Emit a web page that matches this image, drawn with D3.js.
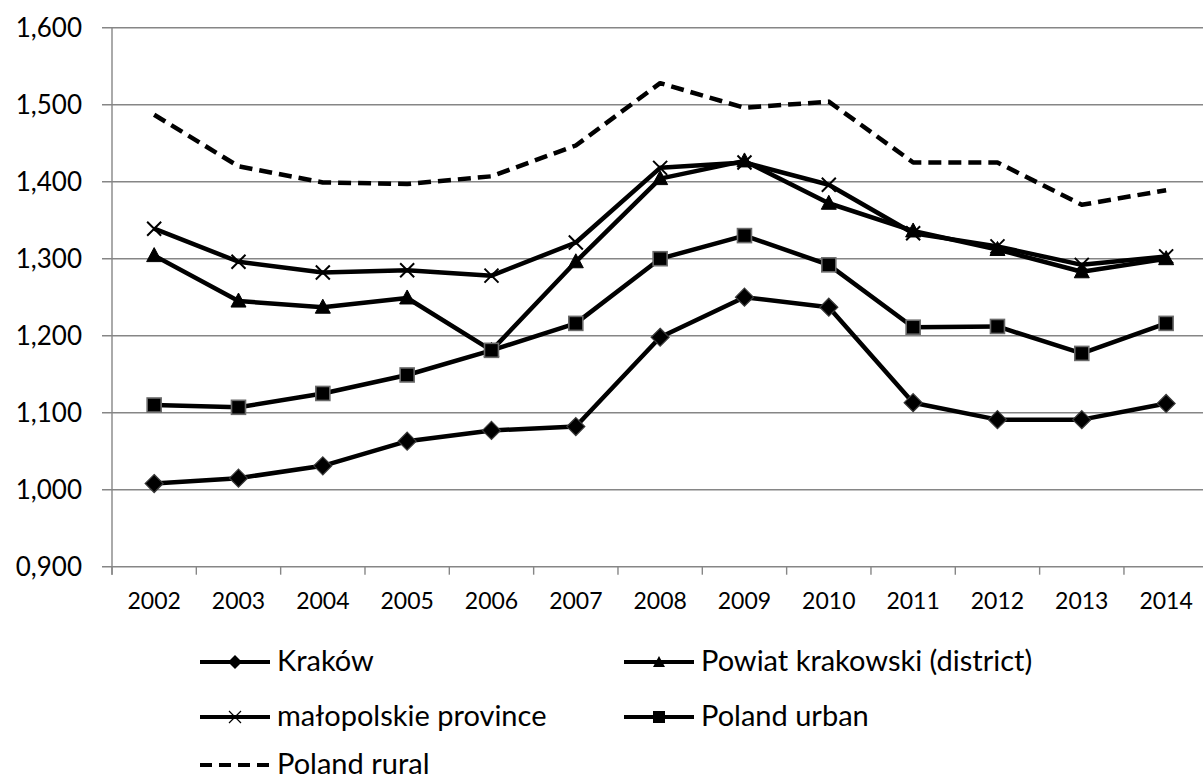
<!DOCTYPE html>
<html>
<head>
<meta charset="utf-8">
<script src="https://cdn.jsdelivr.net/npm/d3@7"></script>
<style>
  html, body { margin: 0; padding: 0; background: #fff; }
  svg { display: block; }
  text { font-family: Lato, "Open Sans", "DejaVu Sans", sans-serif; fill: #000; }
</style>
</head>
<body>
<svg id="chart" width="1203" height="780"></svg>
<script>
// Years along the category axis
const years = ["2002","2003","2004","2005","2006","2007","2008","2009","2010","2011","2012","2013","2014"];

// Series values
const krakow      = [1.008, 1.015, 1.031, 1.063, 1.077, 1.082, 1.198, 1.250, 1.237, 1.113, 1.091, 1.091, 1.112];
const powiat      = [1.304, 1.245, 1.237, 1.249, 1.181, 1.296, 1.404, 1.427, 1.372, 1.336, 1.312, 1.283, 1.300];
const malopolskie = [1.339, 1.296, 1.282, 1.285, 1.278, 1.321, 1.418, 1.425, 1.396, 1.333, 1.316, 1.292, 1.303];
const polandUrban = [1.110, 1.107, 1.125, 1.149, 1.181, 1.216, 1.300, 1.330, 1.292, 1.211, 1.212, 1.177, 1.216];
const polandRural = [1.487, 1.420, 1.399, 1.397, 1.407, 1.447, 1.528, 1.496, 1.504, 1.425, 1.425, 1.370, 1.389];

// Value axis ticks
const yTicks = [0.9, 1.0, 1.1, 1.2, 1.3, 1.4, 1.5, 1.6];

// Series names and marker kinds, in drawing order
const seriesNames = ["Kraków", "Powiat krakowski (district)", "małopolskie province", "Poland urban", "Poland rural"];
const seriesMarkers = ["diamond", "triangle", "x", "square", "none"];
const seriesValues = [krakow, powiat, malopolskie, polandUrban, polandRural];

const svg = d3.select("#chart");

const plotLeft = 112, bandW = 84.33;
const x = d3.scaleBand().domain(years).range([plotLeft, plotLeft + bandW * years.length]).padding(0);
const y = d3.scaleLinear().domain([0.9, 1.6]).range([566.7, 27.7]);
const cx = d => x(d) + x.bandwidth() / 2;

const gridColor = "#868686";

// Horizontal gridlines with small outer ticks
const grid = svg.append("g");
grid.selectAll("line").data(yTicks).join("line")
  .attr("x1", plotLeft - 10).attr("x2", 1203)
  .attr("y1", d => y(d)).attr("y2", d => y(d))
  .attr("stroke", gridColor).attr("stroke-width", 1.4);

// Vertical axis line
svg.append("line")
  .attr("x1", plotLeft).attr("x2", plotLeft)
  .attr("y1", y(1.6)).attr("y2", y(0.9) + 8)
  .attr("stroke", gridColor).attr("stroke-width", 1.4);

// Category boundary ticks
const boundaries = d3.range(years.length + 1).map(i => plotLeft + i * x.bandwidth());
svg.append("g").selectAll("line").data(boundaries).join("line")
  .attr("x1", d => d).attr("x2", d => d)
  .attr("y1", y(0.9)).attr("y2", y(0.9) + 8)
  .attr("stroke", gridColor).attr("stroke-width", 1.4);

// Value labels (decimal comma)
const fmt = d => d3.format(".3f")(d).replace(".", ",");
svg.append("g").selectAll("text").data(yTicks).join("text")
  .attr("x", 82).attr("y", d => y(d))
  .attr("dy", "0.36em")
  .attr("text-anchor", "end")
  .style("font-size", "26px")
  .text(fmt);

// Year labels
svg.append("g").selectAll("text").data(years).join("text")
  .attr("x", d => cx(d)).attr("y", 609)
  .attr("text-anchor", "middle")
  .style("font-size", "23px")
  .text(d => d);

// Marker shapes
function drawMarker(g, kind, px, py) {
  if (kind === "diamond") {
    g.append("path").attr("d", `M${px},${py - 9}L${px + 9},${py}L${px},${py + 9}L${px - 9},${py}Z`)
      .attr("fill", "#000").attr("stroke", "#3a3a3a").attr("stroke-width", 1.2);
  } else if (kind === "square") {
    g.append("rect").attr("x", px - 7).attr("y", py - 7).attr("width", 14).attr("height", 14)
      .attr("fill", "#000").attr("stroke", "#6a6a6a").attr("stroke-width", 1.6);
  } else if (kind === "triangle") {
    g.append("path").attr("d", `M${px},${py - 8}L${px + 7.5},${py + 6}L${px - 7.5},${py + 6}Z`)
      .attr("fill", "#000").attr("stroke", "#000").attr("stroke-width", 1);
  } else if (kind === "x") {
    g.append("path").attr("d", `M${px - 7},${py - 7}L${px + 7},${py + 7}M${px - 7},${py + 7}L${px + 7},${py - 7}`)
      .attr("stroke", "#000").attr("stroke-width", 2);
  }
}

const line = d3.line().x((d, i) => cx(years[i])).y(d => y(d));

seriesValues.forEach((vals, s) => {
  const g = svg.append("g");
  const dashed = seriesMarkers[s] === "none";
  g.append("path")
    .datum(vals)
    .attr("d", line)
    .attr("fill", "none")
    .attr("stroke", "#000")
    .attr("stroke-width", 4.5)
    .attr("stroke-linejoin", "round")
    .attr("stroke-dasharray", dashed ? "13,7" : null);
  if (!dashed) {
    vals.forEach((v, i) => drawMarker(g, seriesMarkers[s], cx(years[i]), y(v)));
  }
});

// Legend
const legendPos = [
  {lx: 200, ly: 662}, {lx: 624, ly: 662},
  {lx: 200, ly: 717}, {lx: 624, ly: 717},
  {lx: 200, ly: 765}
];
seriesNames.forEach((name, s) => {
  const p = legendPos[s];
  const g = svg.append("g");
  const dashed = seriesMarkers[s] === "none";
  g.append("line")
    .attr("x1", p.lx).attr("x2", p.lx + 70)
    .attr("y1", p.ly).attr("y2", p.ly)
    .attr("stroke", "#000").attr("stroke-width", 4)
    .attr("stroke-dasharray", dashed ? "12,7" : null);
  if (!dashed) {
    const mk = seriesMarkers[s];
    const px = p.lx + 35, py = p.ly;
    if (mk === "diamond") {
      g.append("path").attr("d", `M${px},${py - 7}L${px + 7},${py}L${px},${py + 7}L${px - 7},${py}Z`).attr("fill", "#000");
    } else if (mk === "square") {
      g.append("rect").attr("x", px - 6).attr("y", py - 6).attr("width", 12).attr("height", 12).attr("fill", "#000");
    } else if (mk === "triangle") {
      g.append("path").attr("d", `M${px},${py - 6}L${px + 6},${py + 5}L${px - 6},${py + 5}Z`).attr("fill", "#000");
    } else if (mk === "x") {
      g.append("path").attr("d", `M${px - 6},${py - 6}L${px + 6},${py + 6}M${px - 6},${py + 6}L${px + 6},${py - 6}`)
        .attr("stroke", "#000").attr("stroke-width", 1.2);
    }
  }
  g.append("text")
    .attr("x", p.lx + 77).attr("y", p.ly + 9)
    .style("font-size", "29px")
    .text(name);
});
</script>
</body>
</html>
